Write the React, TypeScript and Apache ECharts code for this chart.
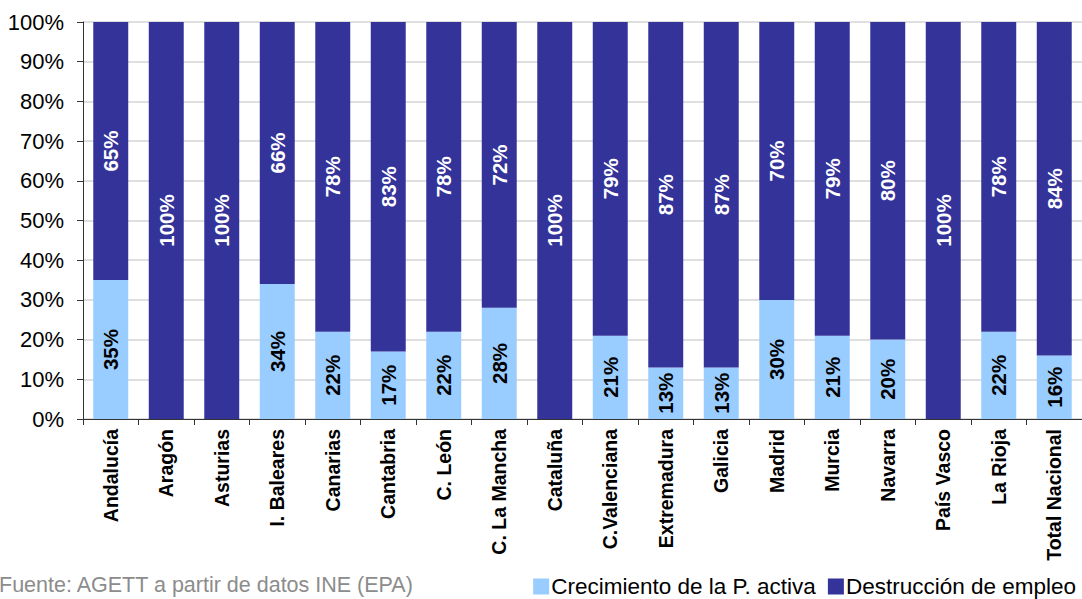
import React, { useEffect, useRef } from "react";
import * as echarts from "echarts";

const categories = [
  "Andalucía", "Aragón", "Asturias", "I. Baleares", "Canarias", "Cantabria",
  "C. León", "C. La Mancha", "Cataluña", "C.Valenciana", "Extremadura", "Galicia",
  "Madrid", "Murcia", "Navarra", "País Vasco", "La Rioja", "Total Nacional",
];
const crecimiento = [35, 0, 0, 34, 22, 17, 22, 28, 0, 21, 13, 13, 30, 21, 20, 0, 22, 16];
const destruccion = [65, 100, 100, 66, 78, 83, 78, 72, 100, 79, 87, 87, 70, 79, 80, 100, 78, 84];
const yTicks = [0, 10, 20, 30, 40, 50, 60, 70, 80, 90, 100];
const seriesNames = ["Crecimiento de la P. activa", "Destrucción de empleo"];
const sourceText = "Fuente: AGETT a partir de datos INE (EPA)";

const FONT = "'Liberation Sans', Arial, sans-serif";

export default function App() {
  const ref = useRef<HTMLDivElement>(null);
  useEffect(() => {
    if (!ref.current) return;
    const chart = echarts.init(ref.current, null, { renderer: "svg" });
    const labelFmt = (p: any) => (p.value > 0 ? p.value + "%" : "");
    chart.setOption({
      animation: false,
      textStyle: { fontFamily: FONT },
      grid: { left: 83, top: 22, width: 1000, height: 397, containLabel: false },
      legend: {
        right: 1,
        bottom: -4,
        itemWidth: 16,
        itemHeight: 16,
        itemGap: 12,
        icon: "rect",
        textStyle: { fontSize: 22.5, color: "#000", fontFamily: FONT, padding: [0, 0, 0, -3] },
        data: seriesNames,
      },
      graphic: [
        {
          type: "text",
          left: -1,
          bottom: 3,
          style: { text: sourceText, fontSize: 21.5, fill: "#8c8c8c", fontFamily: FONT },
        },
      ],
      xAxis: {
        type: "category",
        data: categories,
        axisLine: { lineStyle: { color: "#333", width: 1 } },
        axisTick: { show: true, length: 6, lineStyle: { color: "#333" } },
        axisLabel: {
          rotate: 90,
          interval: 0,
          margin: 10,
          fontSize: 19.5,
          fontWeight: "bold",
          color: "#000",
          fontFamily: FONT,
        },
      },
      yAxis: {
        type: "value",
        min: 0,
        max: 100,
        interval: 10,
        axisLine: { show: true, lineStyle: { color: "#333" } },
        axisTick: { show: true, length: 6, lineStyle: { color: "#333" } },
        splitLine: { lineStyle: { color: "#d4d4d4", width: 1.5 } },
        axisLabel: {
          formatter: (v: number) => (yTicks.includes(v) ? v + "%" : ""),
          fontSize: 22,
          color: "#000",
          margin: 19,
          fontFamily: FONT,
        },
      },
      series: [
        {
          name: seriesNames[0],
          type: "bar",
          stack: "total",
          data: crecimiento,
          barWidth: "63%",
          itemStyle: { color: "#99CCFF" },
          label: {
            show: true,
            position: "inside",
            rotate: 90,
            formatter: labelFmt,
            fontSize: 20.5,
            fontWeight: "bold",
            color: "#000",
            fontFamily: FONT,
          },
        },
        {
          name: seriesNames[1],
          type: "bar",
          stack: "total",
          data: destruccion,
          barWidth: "63%",
          itemStyle: { color: "#333399" },
          label: {
            show: true,
            position: "inside",
            rotate: 90,
            formatter: labelFmt,
            fontSize: 20.5,
            fontWeight: "bold",
            color: "#fff",
            fontFamily: FONT,
          },
        },
      ],
    });
    return () => chart.dispose();
  }, []);
  return (
    <div
      ref={ref}
      style={{ position: "fixed", left: 0, top: 0, width: 1082, height: 599, background: "#fff" }}
    />
  );
}
